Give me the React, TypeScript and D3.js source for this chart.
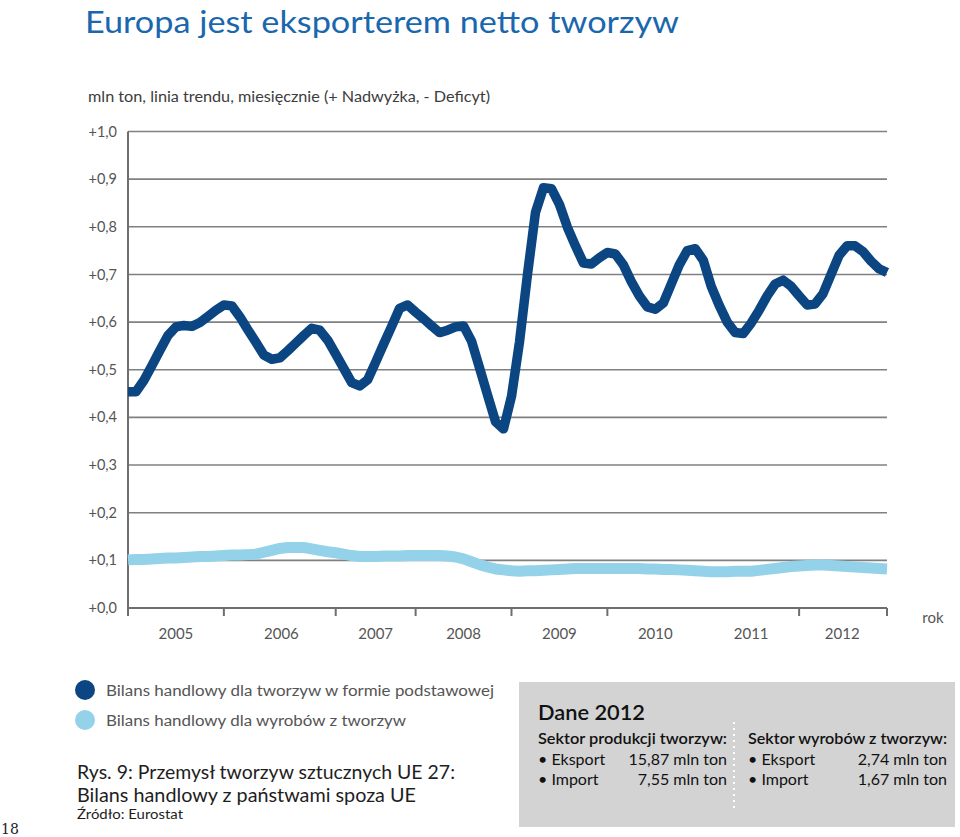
import React from "react";
import * as d3 from "d3";

// ---- Data (monthly trend, Jan 2005 – Dec 2012, mln ton) ----
const polymersBalance = [
  0.454, 0.454, 0.478, 0.509, 0.541, 0.572, 0.59, 0.593, 0.591, 0.599, 0.612, 0.625,
  0.636, 0.634, 0.611, 0.584, 0.558, 0.531, 0.522, 0.525, 0.54, 0.556, 0.572, 0.587,
  0.583, 0.562, 0.533, 0.503, 0.473, 0.466, 0.479, 0.516, 0.554, 0.591, 0.629, 0.636,
  0.621, 0.607, 0.592, 0.578, 0.583, 0.59, 0.592, 0.56, 0.504, 0.447, 0.391, 0.376,
  0.444, 0.558, 0.7, 0.83, 0.882, 0.88, 0.847, 0.799, 0.76, 0.724, 0.722, 0.735,
  0.746, 0.743, 0.72, 0.685, 0.655, 0.632, 0.627, 0.64, 0.68, 0.72, 0.75, 0.754,
  0.73, 0.675, 0.635, 0.6, 0.578, 0.576, 0.598, 0.625, 0.655, 0.68, 0.688, 0.675,
  0.655, 0.636, 0.638, 0.66, 0.7, 0.74, 0.76, 0.76, 0.748, 0.728, 0.712, 0.704,
];
const productsBalance = [
  0.101, 0.102, 0.102, 0.103, 0.104, 0.105, 0.105, 0.106, 0.107, 0.108, 0.108, 0.109,
  0.11, 0.111, 0.111, 0.112, 0.113, 0.117, 0.121, 0.125, 0.127, 0.127, 0.127, 0.124,
  0.121, 0.118, 0.116, 0.113, 0.11, 0.108, 0.108, 0.108, 0.109, 0.109, 0.109, 0.11,
  0.11, 0.11, 0.11, 0.11, 0.109, 0.107, 0.103, 0.097, 0.091, 0.086, 0.082, 0.08,
  0.078, 0.077, 0.078, 0.078, 0.079, 0.08, 0.081, 0.082, 0.083, 0.083, 0.083, 0.083,
  0.083, 0.083, 0.083, 0.083, 0.083, 0.082, 0.082, 0.081, 0.081, 0.08, 0.079, 0.078,
  0.077, 0.076, 0.076, 0.076, 0.077, 0.077, 0.077, 0.079, 0.081, 0.083, 0.085, 0.087,
  0.088, 0.089, 0.09, 0.09, 0.089, 0.088, 0.087, 0.086, 0.085, 0.084, 0.083, 0.082,
];
const yTicks = [0, 0.1, 0.2, 0.3, 0.4, 0.5, 0.6, 0.7, 0.8, 0.9, 1.0];
const xTickMonths = [0, 12, 26, 36, 48, 60, 84, 95];
const yearLabels = ["2005", "2006", "2007", "2008", "2009", "2010", "2011", "2012"];
const yearLabelMonths = [6, 19.2, 31, 42, 54, 66, 78, 89.4];

const legendItems = [
  "Bilans handlowy dla tworzyw w formie podstawowej",
  "Bilans handlowy dla wyrobów z tworzyw",
];
const boxLeftRows = [
  ["• Eksport", "15,87 mln ton"],
  ["• Import", "7,55 mln ton"],
];
const boxRightRows = [
  ["• Eksport", "2,74 mln ton"],
  ["• Import", "1,67 mln ton"],
];

const DARK = "#0b4582";
const LIGHT = "#93d2e9";
const GRID = "#808080";
const FONT = "Lato, 'Open Sans', sans-serif";

export default function App() {
  const W = 960;
  const H = 837;
  const x = d3.scaleLinear().domain([0, 95]).range([128, 887]);
  const y = d3.scaleLinear().domain([0, 1]).range([608, 131.5]);
  const line = d3
    .line<number>()
    .x((_, i) => x(i))
    .y((d) => y(d))
    .curve(d3.curveLinear);

  const fmt = (v: number) => "+" + v.toFixed(1).replace(".", ",");

  return (
    <svg
      width={W}
      height={H}
      style={{ position: "absolute", left: 0, top: 0, background: "#fff" }}
      fontFamily={FONT}
    >
      <rect x={0} y={0} width={W} height={H} fill="#fff" />
      {/* Title */}
      <text x={85} y={33} fontSize={31} fill="#1a67ad" textLength={594} lengthAdjust="spacingAndGlyphs">
        Europa jest eksporterem netto tworzyw
      </text>
      <text x={88} y={102} fontSize={15.5} fill="#3c3c3c" textLength={402} lengthAdjust="spacingAndGlyphs">
        mln ton, linia trendu, miesięcznie (+ Nadwyżka, - Deficyt)
      </text>

      {/* Gridlines */}
      {yTicks.map((t) =>
        t === 0 ? null : (
          <line key={"g" + t} x1={x(0)} x2={x(95)} y1={y(t)} y2={y(t)} stroke={GRID} strokeWidth={1.6} />
        )
      )}
      {/* Y labels */}
      {yTicks.map((t) => (
        <text key={"yl" + t} x={117} y={y(t)} dy="0.35em" fontSize={14.5} fill="#555" textAnchor="end">
          {fmt(t)}
        </text>
      ))}

      {/* Axis */}
      <line x1={x(0)} x2={x(0)} y1={y(1)} y2={y(0) + 8} stroke="#6e6e6e" strokeWidth={2} />
      <line x1={x(0)} x2={x(95)} y1={y(0)} y2={y(0)} stroke="#6e6e6e" strokeWidth={2} />
      {xTickMonths.map((m) => (
        <line key={"t" + m} x1={x(m)} x2={x(m)} y1={y(0)} y2={y(0) + 8} stroke="#6e6e6e" strokeWidth={2} />
      ))}
      {yearLabels.map((lab, i) => (
        <text key={lab} x={x(yearLabelMonths[i])} y={639} fontSize={15} fill="#555" textAnchor="middle">
          {lab}
        </text>
      ))}
      <text x={933} y={623} fontSize={15} fill="#555" textAnchor="middle">
        rok
      </text>

      {/* Lines */}
      <path d={line(productsBalance) || ""} fill="none" stroke={LIGHT} strokeWidth={11} strokeLinejoin="round" />
      <path d={line(polymersBalance) || ""} fill="none" stroke={DARK} strokeWidth={9.5} strokeLinejoin="round" />

      {/* Legend */}
      {legendItems.map((lab, i) => (
        <g key={lab}>
          <circle cx={85} cy={690 + i * 30} r={10} fill={i === 0 ? DARK : LIGHT} />
          <text x={106} y={696 + i * 30} fontSize={15.5} fill="#555" textLength={i === 0 ? 388 : 300} lengthAdjust="spacingAndGlyphs">
            {lab}
          </text>
        </g>
      ))}

      {/* Caption */}
      <text x={77} y={779} fontSize={19} fill="#1e1e1e" textLength={378} lengthAdjust="spacingAndGlyphs">
        Rys. 9:  Przemysł tworzyw sztucznych UE 27:
      </text>
      <text x={77} y={802} fontSize={19} fill="#1e1e1e" textLength={339} lengthAdjust="spacingAndGlyphs">
        Bilans handlowy z państwami spoza UE
      </text>
      <text x={77} y={819} fontSize={13.5} fill="#1e1e1e" textLength={106} lengthAdjust="spacingAndGlyphs">
        Źródło: Eurostat
      </text>
      <text x={1} y={834} fontSize={14} fill="#222" fontFamily="'DejaVu Serif', serif">
        18
      </text>

      {/* Data box */}
      <rect x={519} y={682} width={436} height={145} fill="#d3d3d3" />
      <line x1={734} x2={734} y1={722} y2={812} stroke="#fff" strokeWidth={2} strokeDasharray="2 4" />
      <text x={538} y={720} fontSize={21} fontWeight={600} fill="#111" textLength={107} lengthAdjust="spacingAndGlyphs">
        Dane 2012
      </text>
      <text x={538} y={744} fontSize={16} fontWeight={600} fill="#111" textLength={189} lengthAdjust="spacingAndGlyphs">
        Sektor produkcji tworzyw:
      </text>
      <text x={748} y={744} fontSize={16} fontWeight={600} fill="#111" textLength={199} lengthAdjust="spacingAndGlyphs">
        Sektor wyrobów z tworzyw:
      </text>
      {boxLeftRows.map((r, i) => (
        <g key={"l" + i}>
          <text x={538} y={765 + i * 20} fontSize={16} fill="#111">{r[0]}</text>
          <text x={727} y={765 + i * 20} fontSize={16} fill="#111" textAnchor="end">{r[1]}</text>
        </g>
      ))}
      {boxRightRows.map((r, i) => (
        <g key={"r" + i}>
          <text x={748} y={765 + i * 20} fontSize={16} fill="#111">{r[0]}</text>
          <text x={947} y={765 + i * 20} fontSize={16} fill="#111" textAnchor="end">{r[1]}</text>
        </g>
      ))}
    </svg>
  );
}
